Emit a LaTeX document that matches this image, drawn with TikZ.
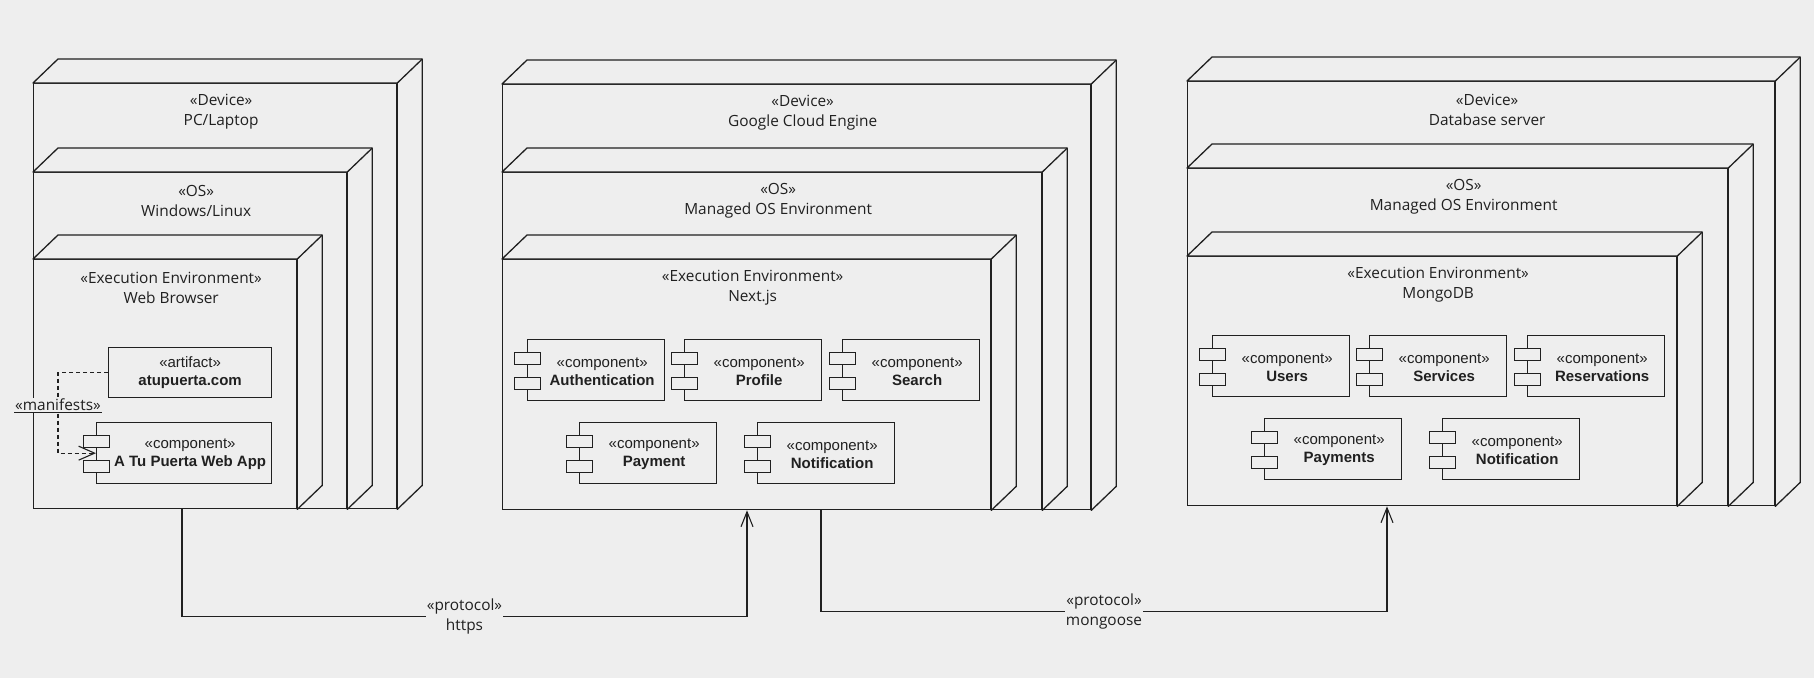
\documentclass[tikz,border=0pt]{standalone}
\usepackage{fontspec}
\setmainfont{Open Sans}
\newfontfamily\compfont{Liberation Sans}
\usetikzlibrary{calc}
\usetikzlibrary{arrows.meta}

\definecolor{bg}{RGB}{238,238,238}
\definecolor{ink}{RGB}{32,32,32}

\tikzset{
  front/.style={draw=ink, line width=1.3pt, fill=bg, anchor=north west, inner sep=0pt},
  side/.style={draw=ink, line width=1.3pt, fill=bg, line join=round},
  lbl/.style={text=ink, align=center, font=\fontsize{15.4}{20}\selectfont, inner sep=1pt},
  comp/.style={front, minimum width=137pt, minimum height=61pt},
  complbl/.style={text=ink, align=center, font=\compfont\fontsize{15}{18}\selectfont, inner sep=0pt},
  slot/.style={draw=ink, line width=0.9pt, fill=bg},
  conn/.style={draw=ink, line width=1.1pt},
  headed/.style={-{Straight Barb[length=15pt,width=12pt]}},
}

\newcommand{\nodecube}[5]{% name, x, y, width, height
  \node[front, minimum width=#4pt, minimum height=#5pt] (#1) at (#2,#3) {};
  \draw[side] (#1.north west) -- ++(25,-24) -- ($(#1.north east)+(25,-24)$) -- ($(#1.south east)+(25,-24)$) -- (#1.south east) -- (#1.north east) -- cycle;
  \draw[side] (#1.north east) -- ++(25,-24);
}
\newcommand{\nodetitle}[3]{% name, stereotype, title
  \node[lbl] (#1lbl) at ([shift={(6,29)}]#1.north) {«#2»\\#3};
}
\newcommand{\compbox}[5][137]{% [width], name, x, y, title
  \node[comp, minimum width=#1pt] (#2) at (#3,#4) {};
  \node[complbl] (#2lbl) at ([shift={(6,1.5)}]#2.center) {«component»\\\textbf{#5}};
  \draw[slot] ([shift={(-13,13)}]#2.north west) rectangle ++(26,12);
  \draw[slot] ([shift={(-13,38)}]#2.north west) rectangle ++(26,12);
}

\begin{document}
\begin{tikzpicture}[x=1pt, y=-1pt]
  \fill[bg] (0,0) rectangle (1814,678);
  \useasboundingbox (0,0) rectangle (1814,678);

  % client
  \nodecube{pcdev}{33}{83}{363}{425}
  \nodetitle{pcdev}{Device}{PC/Laptop}
  \nodecube{pcos}{33}{172}{313}{336}
  \nodetitle{pcos}{OS}{Windows/Linux}
  \nodecube{pcexec}{33}{259}{263}{249}
  \nodetitle{pcexec}{Execution Environment}{Web Browser}
  \node[front, minimum width=163pt, minimum height=50pt] (artifact) at (108,347) {};
  \node[complbl] (artifactlbl) at (artifact.center) {«artifact»\\\textbf{atupuerta.com}};
  \compbox[175]{webapp}{96}{422}{A Tu Puerta Web App}
  \draw[conn, dash pattern=on 4pt off 3pt, -{Straight Barb[length=16pt,width=14pt]}] (artifact.west) -- ++(-50,0) |- (webapp.west);
  \node[lbl, fill=bg] (manifests) at (58,405) {«manifests»};
  \draw[conn] (manifests.south west) -- (manifests.south east);

  % app server
  \nodecube{gcdev}{502}{84}{588}{425}
  \nodetitle{gcdev}{Device}{Google Cloud Engine}
  \nodecube{gcos}{502}{172}{539}{337}
  \nodetitle{gcos}{OS}{Managed OS Environment}
  \nodecube{gcexec}{502}{259}{488}{250}
  \nodetitle{gcexec}{Execution Environment}{Next.js}
  \compbox{auth}{527}{339}{Authentication}
  \compbox{profile}{684}{339}{Profile}
  \compbox{search}{842}{339}{Search}
  \compbox{payment}{579}{422}{Payment}
  \compbox{notif}{757}{422}{Notification}

  % database server
  \nodecube{dbdev}{1187}{81}{587}{424}
  \nodetitle{dbdev}{Device}{Database server}
  \nodecube{dbos}{1187}{168}{540}{337}
  \nodetitle{dbos}{OS}{Managed OS Environment}
  \nodecube{dbexec}{1187}{256}{489}{249}
  \nodetitle{dbexec}{Execution Environment}{MongoDB}
  \compbox{users}{1212}{335}{Users}
  \compbox{services}{1369}{335}{Services}
  \compbox{reserv}{1527}{335}{Reservations}
  \compbox{payments}{1264}{418}{Payments}
  \compbox{dbnotif}{1442}{418}{Notification}

  % protocols
  \draw[conn, headed] ([xshift=149pt]pcdev.south west) -- ++(0,107.5) -| ([xshift=245pt]gcdev.south west)
    node[lbl, fill=bg, pos=0.25] (https) {«protocol»\\https};
  \draw[conn, headed] ([xshift=319pt]gcdev.south west) -- ++(0,101) -| ([xshift=200pt]dbdev.south west)
    node[lbl, fill=bg, pos=0.25] (mongoose) {«protocol»\\mongoose};
\end{tikzpicture}
\end{document}
